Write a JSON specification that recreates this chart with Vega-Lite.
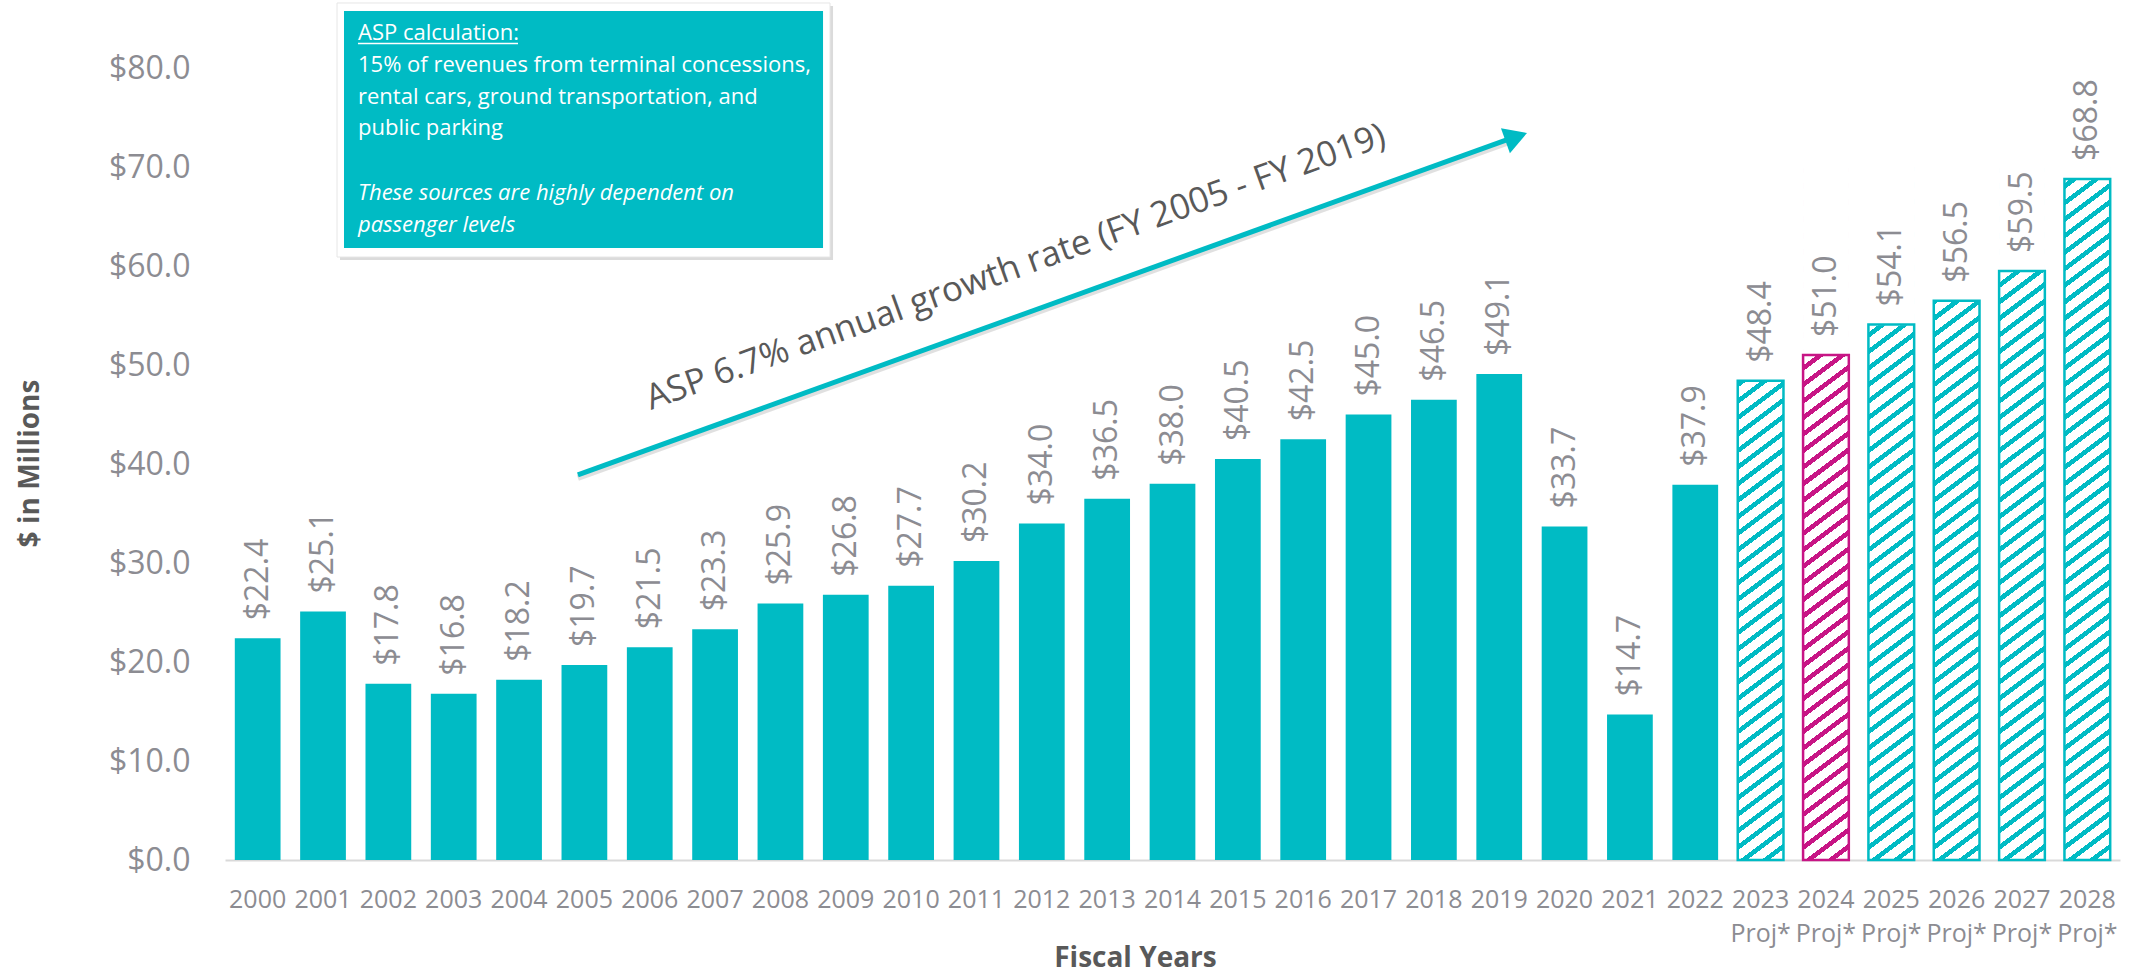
{
  "$schema": "https://vega.github.io/schema/vega-lite/v6.json",
  "width": 1895,
  "height": 860,
  "autosize": {"type": "none"},
  "padding": {"left": 225, "top": 0, "right": 11, "bottom": 114},
  "background": "white",
  "config": {"view": {"stroke": null}, "font": "Open Sans"},
  "datasets": {
    "asp": [
      {"year": "2000", "value": 22.4, "series": "Actual"},
      {"year": "2001", "value": 25.1, "series": "Actual"},
      {"year": "2002", "value": 17.8, "series": "Actual"},
      {"year": "2003", "value": 16.8, "series": "Actual"},
      {"year": "2004", "value": 18.2, "series": "Actual"},
      {"year": "2005", "value": 19.7, "series": "Actual"},
      {"year": "2006", "value": 21.5, "series": "Actual"},
      {"year": "2007", "value": 23.3, "series": "Actual"},
      {"year": "2008", "value": 25.9, "series": "Actual"},
      {"year": "2009", "value": 26.8, "series": "Actual"},
      {"year": "2010", "value": 27.7, "series": "Actual"},
      {"year": "2011", "value": 30.2, "series": "Actual"},
      {"year": "2012", "value": 34.0, "series": "Actual"},
      {"year": "2013", "value": 36.5, "series": "Actual"},
      {"year": "2014", "value": 38.0, "series": "Actual"},
      {"year": "2015", "value": 40.5, "series": "Actual"},
      {"year": "2016", "value": 42.5, "series": "Actual"},
      {"year": "2017", "value": 45.0, "series": "Actual"},
      {"year": "2018", "value": 46.5, "series": "Actual"},
      {"year": "2019", "value": 49.1, "series": "Actual"},
      {"year": "2020", "value": 33.7, "series": "Actual"},
      {"year": "2021", "value": 14.7, "series": "Actual"},
      {"year": "2022", "value": 37.9, "series": "Actual"},
      {"year": "2023", "value": 48.4, "series": "Projected"},
      {"year": "2024", "value": 51.0, "series": "Projected FY2024"},
      {"year": "2025", "value": 54.1, "series": "Projected"},
      {"year": "2026", "value": 56.5, "series": "Projected"},
      {"year": "2027", "value": 59.5, "series": "Projected"},
      {"year": "2028", "value": 68.8, "series": "Projected"}
    ],
    "boxShadow": [{"X": 1.26, "X2": 8.805, "Y": 86.26, "Y2": 60.61}],
    "boxOuter": [{"X": 1.214, "X2": 8.759, "Y": 86.57, "Y2": 60.91}],
    "boxInner": [{"X": 1.321, "X2": 8.652, "Y": 85.76, "Y2": 61.82}],
    "boxText": [
      {"X": 1.535, "Y": 83.54, "t": "ASP calculation:"},
      {"X": 1.535, "Y": 80.3, "t": "15% of revenues from terminal concessions,"},
      {"X": 1.535, "Y": 77.07, "t": "rental cars, ground transportation, and"},
      {"X": 1.535, "Y": 73.94, "t": "public parking"}
    ],
    "boxItalic": [
      {"X": 1.535, "Y": 67.37, "t": "These sources are highly dependent on"},
      {"X": 1.535, "Y": 64.14, "t": "passenger levels"}
    ],
    "underline": [{"X": 1.535, "X2": 3.984, "Y": 82.47, "Y2": 82.47}],
    "arrow": [{"X": 4.9, "Y": 38.9, "X2": 19.22, "Y2": 73.0}],
    "arrowHead": [{"X": 19.26, "Y": 73.04}],
    "growth": [{"X": 6.02, "Y": 45.45, "t": "ASP 6.7% annual growth rate (FY 2005 - FY 2019)"}]
  },
  "layer": [
    {
      "data": {"name": "asp"},
      "encoding": {
        "x": {
          "field": "year",
          "type": "ordinal",
          "scale": {"paddingInner": 0.3, "paddingOuter": 0.15},
          "title": "Fiscal Years",
          "axis": {
            "labelAngle": 0,
            "labelFontSize": 25,
            "labelColor": "#8C8C92",
            "labelPadding": 27,
            "labelBaseline": "top",
            "labelLineHeight": 34,
            "labelOverlap": false,
            "labelFlush": false,
            "labelExpr": "toNumber(datum.value) >= 2023 ? [datum.value, 'Proj*'] : datum.value",
            "ticks": false,
            "domainColor": "#D9D9D9",
            "domainWidth": 2,
            "titleFontSize": 28,
            "titleFontWeight": "bold",
            "titleColor": "#595959",
            "titleX": 910,
            "titleY": 98,
            "titleAlign": "center",
            "titleBaseline": "middle"
          }
        },
        "y": {
          "field": "value",
          "type": "quantitative",
          "scale": {"domain": [0, 86.87], "nice": false, "zero": true},
          "title": "$ in Millions",
          "axis": {
            "values": [0, 10, 20, 30, 40, 50, 60, 70, 80],
            "format": "$.1f",
            "labelFontSize": 32,
            "labelColor": "#8C8C92",
            "labelPadding": 35,
            "ticks": false,
            "domain": false,
            "grid": false,
            "titleFontSize": 28,
            "titleFontWeight": "bold",
            "titleColor": "#595959",
            "titleX": -195,
            "titleY": 463,
            "titleAlign": "center",
            "titleBaseline": "middle",
            "titleAngle": 270
          }
        }
      },
      "layer": [
        {
          "transform": [{"filter": "datum.series == 'Actual'"}],
          "mark": {"type": "bar", "color": "#00BBC4"}
        },
        {
          "transform": [{"filter": "datum.series == 'Projected'"}],
          "mark": {
            "type": "bar",
            "fill": {
              "gradient": "linear", "x1": 0, "y1": 0, "x2": 0.0518, "y2": 1.0469,
              "stops": [
                {"offset": 0, "color": "#00BBC4"}, {"offset": 0.008, "color": "#00BBC4"}, {"offset": 0.008, "color": "#fff"}, {"offset": 0.0227, "color": "#fff"},
                {"offset": 0.0227, "color": "#00BBC4"}, {"offset": 0.0307, "color": "#00BBC4"}, {"offset": 0.0307, "color": "#fff"}, {"offset": 0.0455, "color": "#fff"},
                {"offset": 0.0455, "color": "#00BBC4"}, {"offset": 0.0534, "color": "#00BBC4"}, {"offset": 0.0534, "color": "#fff"}, {"offset": 0.0682, "color": "#fff"},
                {"offset": 0.0682, "color": "#00BBC4"}, {"offset": 0.0761, "color": "#00BBC4"}, {"offset": 0.0761, "color": "#fff"}, {"offset": 0.0909, "color": "#fff"},
                {"offset": 0.0909, "color": "#00BBC4"}, {"offset": 0.0989, "color": "#00BBC4"}, {"offset": 0.0989, "color": "#fff"}, {"offset": 0.1136, "color": "#fff"},
                {"offset": 0.1136, "color": "#00BBC4"}, {"offset": 0.1216, "color": "#00BBC4"}, {"offset": 0.1216, "color": "#fff"}, {"offset": 0.1364, "color": "#fff"},
                {"offset": 0.1364, "color": "#00BBC4"}, {"offset": 0.1443, "color": "#00BBC4"}, {"offset": 0.1443, "color": "#fff"}, {"offset": 0.1591, "color": "#fff"},
                {"offset": 0.1591, "color": "#00BBC4"}, {"offset": 0.167, "color": "#00BBC4"}, {"offset": 0.167, "color": "#fff"}, {"offset": 0.1818, "color": "#fff"},
                {"offset": 0.1818, "color": "#00BBC4"}, {"offset": 0.1898, "color": "#00BBC4"}, {"offset": 0.1898, "color": "#fff"}, {"offset": 0.2045, "color": "#fff"},
                {"offset": 0.2045, "color": "#00BBC4"}, {"offset": 0.2125, "color": "#00BBC4"}, {"offset": 0.2125, "color": "#fff"}, {"offset": 0.2273, "color": "#fff"},
                {"offset": 0.2273, "color": "#00BBC4"}, {"offset": 0.2352, "color": "#00BBC4"}, {"offset": 0.2352, "color": "#fff"}, {"offset": 0.25, "color": "#fff"},
                {"offset": 0.25, "color": "#00BBC4"}, {"offset": 0.258, "color": "#00BBC4"}, {"offset": 0.258, "color": "#fff"}, {"offset": 0.2727, "color": "#fff"},
                {"offset": 0.2727, "color": "#00BBC4"}, {"offset": 0.2807, "color": "#00BBC4"}, {"offset": 0.2807, "color": "#fff"}, {"offset": 0.2955, "color": "#fff"},
                {"offset": 0.2955, "color": "#00BBC4"}, {"offset": 0.3034, "color": "#00BBC4"}, {"offset": 0.3034, "color": "#fff"}, {"offset": 0.3182, "color": "#fff"},
                {"offset": 0.3182, "color": "#00BBC4"}, {"offset": 0.3261, "color": "#00BBC4"}, {"offset": 0.3261, "color": "#fff"}, {"offset": 0.3409, "color": "#fff"},
                {"offset": 0.3409, "color": "#00BBC4"}, {"offset": 0.3489, "color": "#00BBC4"}, {"offset": 0.3489, "color": "#fff"}, {"offset": 0.3636, "color": "#fff"},
                {"offset": 0.3636, "color": "#00BBC4"}, {"offset": 0.3716, "color": "#00BBC4"}, {"offset": 0.3716, "color": "#fff"}, {"offset": 0.3864, "color": "#fff"},
                {"offset": 0.3864, "color": "#00BBC4"}, {"offset": 0.3943, "color": "#00BBC4"}, {"offset": 0.3943, "color": "#fff"}, {"offset": 0.4091, "color": "#fff"},
                {"offset": 0.4091, "color": "#00BBC4"}, {"offset": 0.417, "color": "#00BBC4"}, {"offset": 0.417, "color": "#fff"}, {"offset": 0.4318, "color": "#fff"},
                {"offset": 0.4318, "color": "#00BBC4"}, {"offset": 0.4398, "color": "#00BBC4"}, {"offset": 0.4398, "color": "#fff"}, {"offset": 0.4545, "color": "#fff"},
                {"offset": 0.4545, "color": "#00BBC4"}, {"offset": 0.4625, "color": "#00BBC4"}, {"offset": 0.4625, "color": "#fff"}, {"offset": 0.4773, "color": "#fff"},
                {"offset": 0.4773, "color": "#00BBC4"}, {"offset": 0.4852, "color": "#00BBC4"}, {"offset": 0.4852, "color": "#fff"}, {"offset": 0.5, "color": "#fff"},
                {"offset": 0.5, "color": "#00BBC4"}, {"offset": 0.508, "color": "#00BBC4"}, {"offset": 0.508, "color": "#fff"}, {"offset": 0.5227, "color": "#fff"},
                {"offset": 0.5227, "color": "#00BBC4"}, {"offset": 0.5307, "color": "#00BBC4"}, {"offset": 0.5307, "color": "#fff"}, {"offset": 0.5455, "color": "#fff"},
                {"offset": 0.5455, "color": "#00BBC4"}, {"offset": 0.5534, "color": "#00BBC4"}, {"offset": 0.5534, "color": "#fff"}, {"offset": 0.5682, "color": "#fff"},
                {"offset": 0.5682, "color": "#00BBC4"}, {"offset": 0.5761, "color": "#00BBC4"}, {"offset": 0.5761, "color": "#fff"}, {"offset": 0.5909, "color": "#fff"},
                {"offset": 0.5909, "color": "#00BBC4"}, {"offset": 0.5989, "color": "#00BBC4"}, {"offset": 0.5989, "color": "#fff"}, {"offset": 0.6136, "color": "#fff"},
                {"offset": 0.6136, "color": "#00BBC4"}, {"offset": 0.6216, "color": "#00BBC4"}, {"offset": 0.6216, "color": "#fff"}, {"offset": 0.6364, "color": "#fff"},
                {"offset": 0.6364, "color": "#00BBC4"}, {"offset": 0.6443, "color": "#00BBC4"}, {"offset": 0.6443, "color": "#fff"}, {"offset": 0.6591, "color": "#fff"},
                {"offset": 0.6591, "color": "#00BBC4"}, {"offset": 0.667, "color": "#00BBC4"}, {"offset": 0.667, "color": "#fff"}, {"offset": 0.6818, "color": "#fff"},
                {"offset": 0.6818, "color": "#00BBC4"}, {"offset": 0.6898, "color": "#00BBC4"}, {"offset": 0.6898, "color": "#fff"}, {"offset": 0.7045, "color": "#fff"},
                {"offset": 0.7045, "color": "#00BBC4"}, {"offset": 0.7125, "color": "#00BBC4"}, {"offset": 0.7125, "color": "#fff"}, {"offset": 0.7273, "color": "#fff"},
                {"offset": 0.7273, "color": "#00BBC4"}, {"offset": 0.7352, "color": "#00BBC4"}, {"offset": 0.7352, "color": "#fff"}, {"offset": 0.75, "color": "#fff"},
                {"offset": 0.75, "color": "#00BBC4"}, {"offset": 0.758, "color": "#00BBC4"}, {"offset": 0.758, "color": "#fff"}, {"offset": 0.7727, "color": "#fff"},
                {"offset": 0.7727, "color": "#00BBC4"}, {"offset": 0.7807, "color": "#00BBC4"}, {"offset": 0.7807, "color": "#fff"}, {"offset": 0.7955, "color": "#fff"},
                {"offset": 0.7955, "color": "#00BBC4"}, {"offset": 0.8034, "color": "#00BBC4"}, {"offset": 0.8034, "color": "#fff"}, {"offset": 0.8182, "color": "#fff"},
                {"offset": 0.8182, "color": "#00BBC4"}, {"offset": 0.8261, "color": "#00BBC4"}, {"offset": 0.8261, "color": "#fff"}, {"offset": 0.8409, "color": "#fff"},
                {"offset": 0.8409, "color": "#00BBC4"}, {"offset": 0.8489, "color": "#00BBC4"}, {"offset": 0.8489, "color": "#fff"}, {"offset": 0.8636, "color": "#fff"},
                {"offset": 0.8636, "color": "#00BBC4"}, {"offset": 0.8716, "color": "#00BBC4"}, {"offset": 0.8716, "color": "#fff"}, {"offset": 0.8864, "color": "#fff"},
                {"offset": 0.8864, "color": "#00BBC4"}, {"offset": 0.8943, "color": "#00BBC4"}, {"offset": 0.8943, "color": "#fff"}, {"offset": 0.9091, "color": "#fff"},
                {"offset": 0.9091, "color": "#00BBC4"}, {"offset": 0.917, "color": "#00BBC4"}, {"offset": 0.917, "color": "#fff"}, {"offset": 0.9318, "color": "#fff"},
                {"offset": 0.9318, "color": "#00BBC4"}, {"offset": 0.9398, "color": "#00BBC4"}, {"offset": 0.9398, "color": "#fff"}, {"offset": 0.9545, "color": "#fff"},
                {"offset": 0.9545, "color": "#00BBC4"}, {"offset": 0.9625, "color": "#00BBC4"}, {"offset": 0.9625, "color": "#fff"}, {"offset": 0.9773, "color": "#fff"},
                {"offset": 0.9773, "color": "#00BBC4"}, {"offset": 0.9852, "color": "#00BBC4"}, {"offset": 0.9852, "color": "#fff"}, {"offset": 1, "color": "#fff"}
              ]
            }
          },
          "encoding": {
            "y": {"datum": 70, "type": "quantitative"},
            "y2": {"datum": 0}
          }
        },
        {
          "transform": [{"filter": "datum.series == 'Projected FY2024'"}],
          "mark": {
            "type": "bar",
            "fill": {
              "gradient": "linear", "x1": 0, "y1": 0, "x2": 0.0518, "y2": 1.0469,
              "stops": [
                {"offset": 0, "color": "#C71585"}, {"offset": 0.008, "color": "#C71585"}, {"offset": 0.008, "color": "#fff"}, {"offset": 0.0227, "color": "#fff"},
                {"offset": 0.0227, "color": "#C71585"}, {"offset": 0.0307, "color": "#C71585"}, {"offset": 0.0307, "color": "#fff"}, {"offset": 0.0455, "color": "#fff"},
                {"offset": 0.0455, "color": "#C71585"}, {"offset": 0.0534, "color": "#C71585"}, {"offset": 0.0534, "color": "#fff"}, {"offset": 0.0682, "color": "#fff"},
                {"offset": 0.0682, "color": "#C71585"}, {"offset": 0.0761, "color": "#C71585"}, {"offset": 0.0761, "color": "#fff"}, {"offset": 0.0909, "color": "#fff"},
                {"offset": 0.0909, "color": "#C71585"}, {"offset": 0.0989, "color": "#C71585"}, {"offset": 0.0989, "color": "#fff"}, {"offset": 0.1136, "color": "#fff"},
                {"offset": 0.1136, "color": "#C71585"}, {"offset": 0.1216, "color": "#C71585"}, {"offset": 0.1216, "color": "#fff"}, {"offset": 0.1364, "color": "#fff"},
                {"offset": 0.1364, "color": "#C71585"}, {"offset": 0.1443, "color": "#C71585"}, {"offset": 0.1443, "color": "#fff"}, {"offset": 0.1591, "color": "#fff"},
                {"offset": 0.1591, "color": "#C71585"}, {"offset": 0.167, "color": "#C71585"}, {"offset": 0.167, "color": "#fff"}, {"offset": 0.1818, "color": "#fff"},
                {"offset": 0.1818, "color": "#C71585"}, {"offset": 0.1898, "color": "#C71585"}, {"offset": 0.1898, "color": "#fff"}, {"offset": 0.2045, "color": "#fff"},
                {"offset": 0.2045, "color": "#C71585"}, {"offset": 0.2125, "color": "#C71585"}, {"offset": 0.2125, "color": "#fff"}, {"offset": 0.2273, "color": "#fff"},
                {"offset": 0.2273, "color": "#C71585"}, {"offset": 0.2352, "color": "#C71585"}, {"offset": 0.2352, "color": "#fff"}, {"offset": 0.25, "color": "#fff"},
                {"offset": 0.25, "color": "#C71585"}, {"offset": 0.258, "color": "#C71585"}, {"offset": 0.258, "color": "#fff"}, {"offset": 0.2727, "color": "#fff"},
                {"offset": 0.2727, "color": "#C71585"}, {"offset": 0.2807, "color": "#C71585"}, {"offset": 0.2807, "color": "#fff"}, {"offset": 0.2955, "color": "#fff"},
                {"offset": 0.2955, "color": "#C71585"}, {"offset": 0.3034, "color": "#C71585"}, {"offset": 0.3034, "color": "#fff"}, {"offset": 0.3182, "color": "#fff"},
                {"offset": 0.3182, "color": "#C71585"}, {"offset": 0.3261, "color": "#C71585"}, {"offset": 0.3261, "color": "#fff"}, {"offset": 0.3409, "color": "#fff"},
                {"offset": 0.3409, "color": "#C71585"}, {"offset": 0.3489, "color": "#C71585"}, {"offset": 0.3489, "color": "#fff"}, {"offset": 0.3636, "color": "#fff"},
                {"offset": 0.3636, "color": "#C71585"}, {"offset": 0.3716, "color": "#C71585"}, {"offset": 0.3716, "color": "#fff"}, {"offset": 0.3864, "color": "#fff"},
                {"offset": 0.3864, "color": "#C71585"}, {"offset": 0.3943, "color": "#C71585"}, {"offset": 0.3943, "color": "#fff"}, {"offset": 0.4091, "color": "#fff"},
                {"offset": 0.4091, "color": "#C71585"}, {"offset": 0.417, "color": "#C71585"}, {"offset": 0.417, "color": "#fff"}, {"offset": 0.4318, "color": "#fff"},
                {"offset": 0.4318, "color": "#C71585"}, {"offset": 0.4398, "color": "#C71585"}, {"offset": 0.4398, "color": "#fff"}, {"offset": 0.4545, "color": "#fff"},
                {"offset": 0.4545, "color": "#C71585"}, {"offset": 0.4625, "color": "#C71585"}, {"offset": 0.4625, "color": "#fff"}, {"offset": 0.4773, "color": "#fff"},
                {"offset": 0.4773, "color": "#C71585"}, {"offset": 0.4852, "color": "#C71585"}, {"offset": 0.4852, "color": "#fff"}, {"offset": 0.5, "color": "#fff"},
                {"offset": 0.5, "color": "#C71585"}, {"offset": 0.508, "color": "#C71585"}, {"offset": 0.508, "color": "#fff"}, {"offset": 0.5227, "color": "#fff"},
                {"offset": 0.5227, "color": "#C71585"}, {"offset": 0.5307, "color": "#C71585"}, {"offset": 0.5307, "color": "#fff"}, {"offset": 0.5455, "color": "#fff"},
                {"offset": 0.5455, "color": "#C71585"}, {"offset": 0.5534, "color": "#C71585"}, {"offset": 0.5534, "color": "#fff"}, {"offset": 0.5682, "color": "#fff"},
                {"offset": 0.5682, "color": "#C71585"}, {"offset": 0.5761, "color": "#C71585"}, {"offset": 0.5761, "color": "#fff"}, {"offset": 0.5909, "color": "#fff"},
                {"offset": 0.5909, "color": "#C71585"}, {"offset": 0.5989, "color": "#C71585"}, {"offset": 0.5989, "color": "#fff"}, {"offset": 0.6136, "color": "#fff"},
                {"offset": 0.6136, "color": "#C71585"}, {"offset": 0.6216, "color": "#C71585"}, {"offset": 0.6216, "color": "#fff"}, {"offset": 0.6364, "color": "#fff"},
                {"offset": 0.6364, "color": "#C71585"}, {"offset": 0.6443, "color": "#C71585"}, {"offset": 0.6443, "color": "#fff"}, {"offset": 0.6591, "color": "#fff"},
                {"offset": 0.6591, "color": "#C71585"}, {"offset": 0.667, "color": "#C71585"}, {"offset": 0.667, "color": "#fff"}, {"offset": 0.6818, "color": "#fff"},
                {"offset": 0.6818, "color": "#C71585"}, {"offset": 0.6898, "color": "#C71585"}, {"offset": 0.6898, "color": "#fff"}, {"offset": 0.7045, "color": "#fff"},
                {"offset": 0.7045, "color": "#C71585"}, {"offset": 0.7125, "color": "#C71585"}, {"offset": 0.7125, "color": "#fff"}, {"offset": 0.7273, "color": "#fff"},
                {"offset": 0.7273, "color": "#C71585"}, {"offset": 0.7352, "color": "#C71585"}, {"offset": 0.7352, "color": "#fff"}, {"offset": 0.75, "color": "#fff"},
                {"offset": 0.75, "color": "#C71585"}, {"offset": 0.758, "color": "#C71585"}, {"offset": 0.758, "color": "#fff"}, {"offset": 0.7727, "color": "#fff"},
                {"offset": 0.7727, "color": "#C71585"}, {"offset": 0.7807, "color": "#C71585"}, {"offset": 0.7807, "color": "#fff"}, {"offset": 0.7955, "color": "#fff"},
                {"offset": 0.7955, "color": "#C71585"}, {"offset": 0.8034, "color": "#C71585"}, {"offset": 0.8034, "color": "#fff"}, {"offset": 0.8182, "color": "#fff"},
                {"offset": 0.8182, "color": "#C71585"}, {"offset": 0.8261, "color": "#C71585"}, {"offset": 0.8261, "color": "#fff"}, {"offset": 0.8409, "color": "#fff"},
                {"offset": 0.8409, "color": "#C71585"}, {"offset": 0.8489, "color": "#C71585"}, {"offset": 0.8489, "color": "#fff"}, {"offset": 0.8636, "color": "#fff"},
                {"offset": 0.8636, "color": "#C71585"}, {"offset": 0.8716, "color": "#C71585"}, {"offset": 0.8716, "color": "#fff"}, {"offset": 0.8864, "color": "#fff"},
                {"offset": 0.8864, "color": "#C71585"}, {"offset": 0.8943, "color": "#C71585"}, {"offset": 0.8943, "color": "#fff"}, {"offset": 0.9091, "color": "#fff"},
                {"offset": 0.9091, "color": "#C71585"}, {"offset": 0.917, "color": "#C71585"}, {"offset": 0.917, "color": "#fff"}, {"offset": 0.9318, "color": "#fff"},
                {"offset": 0.9318, "color": "#C71585"}, {"offset": 0.9398, "color": "#C71585"}, {"offset": 0.9398, "color": "#fff"}, {"offset": 0.9545, "color": "#fff"},
                {"offset": 0.9545, "color": "#C71585"}, {"offset": 0.9625, "color": "#C71585"}, {"offset": 0.9625, "color": "#fff"}, {"offset": 0.9773, "color": "#fff"},
                {"offset": 0.9773, "color": "#C71585"}, {"offset": 0.9852, "color": "#C71585"}, {"offset": 0.9852, "color": "#fff"}, {"offset": 1, "color": "#fff"}
              ]
            }
          },
          "encoding": {
            "y": {"datum": 70, "type": "quantitative"},
            "y2": {"datum": 0}
          }
        },
        {
          "transform": [{"filter": "datum.series != 'Actual'"}],
          "mark": {"type": "bar", "fill": "#ffffff", "stroke": "#ffffff", "strokeWidth": 1.5},
          "encoding": {"y2": {"datum": 70}}
        },
        {
          "transform": [{"filter": "datum.series != 'Actual'"}],
          "mark": {"type": "bar", "filled": false, "strokeWidth": 2.5},
          "encoding": {
            "stroke": {
              "field": "series",
              "type": "nominal",
              "scale": {"domain": ["Projected", "Projected FY2024"], "range": ["#00BBC4", "#C71585"]},
              "legend": null
            }
          }
        },
        {
          "mark": {
            "type": "text",
            "angle": 270,
            "align": "left",
            "baseline": "middle",
            "dx": 18,
            "fontSize": 32,
            "color": "#8C8C92"
          },
          "encoding": {
            "text": {"field": "value", "type": "quantitative", "format": "$.1f"}
          }
        }
      ]
    },
    {
      "encoding": {
        "x": {"field": "X", "type": "quantitative", "scale": {"domain": [-0.5, 28.5], "nice": false, "zero": false}, "axis": null},
        "y": {"field": "Y", "type": "quantitative", "scale": {"domain": [0, 86.87], "nice": false, "zero": true}, "axis": null}
      },
      "layer": [
        {
          "data": {"name": "boxShadow"},
          "mark": {"type": "rect", "fill": "#BDBDBD", "opacity": 0.55},
          "encoding": {"x2": {"field": "X2"}, "y2": {"field": "Y2"}}
        },
        {
          "data": {"name": "boxOuter"},
          "mark": {"type": "rect", "fill": "#ffffff", "stroke": "#E6E6E6", "strokeWidth": 1},
          "encoding": {"x2": {"field": "X2"}, "y2": {"field": "Y2"}}
        },
        {
          "data": {"name": "boxInner"},
          "mark": {"type": "rect", "fill": "#00BBC4"},
          "encoding": {"x2": {"field": "X2"}, "y2": {"field": "Y2"}}
        },
        {
          "data": {"name": "boxText"},
          "mark": {"type": "text", "align": "left", "baseline": "middle", "fontSize": 22, "color": "#ffffff"},
          "encoding": {"text": {"field": "t"}}
        },
        {
          "data": {"name": "boxItalic"},
          "mark": {"type": "text", "align": "left", "baseline": "middle", "fontSize": 22, "fontStyle": "italic", "color": "#ffffff"},
          "encoding": {"text": {"field": "t"}}
        },
        {
          "data": {"name": "underline"},
          "mark": {"type": "rule", "color": "#ffffff", "strokeWidth": 1.5},
          "encoding": {"x2": {"field": "X2"}, "y2": {"field": "Y2"}}
        },
        {
          "data": {"name": "arrow"},
          "mark": {"type": "rule", "color": "#000000", "opacity": 0.12, "strokeWidth": 6, "yOffset": 3, "y2Offset": 3},
          "encoding": {"x2": {"field": "X2"}, "y2": {"field": "Y2"}}
        },
        {
          "data": {"name": "arrow"},
          "mark": {"type": "rule", "color": "#00BBC4", "strokeWidth": 5},
          "encoding": {"x2": {"field": "X2"}, "y2": {"field": "Y2"}}
        },
        {
          "data": {"name": "arrowHead"},
          "mark": {"type": "point", "shape": "triangle-right", "filled": true, "size": 700, "angle": 340.2, "color": "#00BBC4", "opacity": 1}
        },
        {
          "data": {"name": "growth"},
          "mark": {"type": "text", "align": "left", "baseline": "alphabetic", "angle": 340.2, "fontSize": 35, "color": "#595959"},
          "encoding": {"text": {"field": "t"}}
        }
      ]
    }
  ],
  "resolve": {"scale": {"x": "independent"}, "axis": {"y": "independent"}}
}
